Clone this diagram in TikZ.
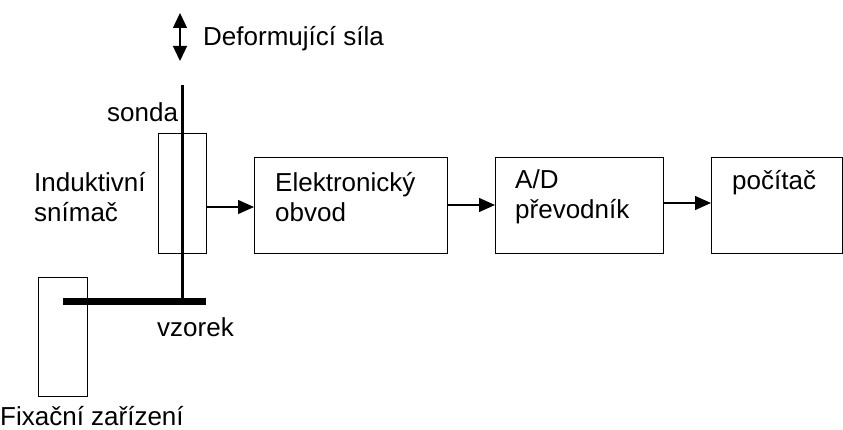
\documentclass[tikz,border=0pt]{standalone}
\usepackage{fontspec}
\setmainfont{Liberation Sans}
\usetikzlibrary{arrows.meta}
\begin{document}
\begin{tikzpicture}[x=1pt,y=-1pt,
  box/.style={draw, line width=1.3pt, inner sep=0pt, anchor=north west},
  lbl/.style={inner sep=0pt, font=\fontsize{26}{30}\selectfont, align=left},
  tip/.style={Triangle[length=16pt,width=14pt]},
  conn/.style={line width=1.3pt, -{Triangle[length=16pt,width=14pt]}}]
\useasboundingbox (0,0) rectangle (843,430);
% boxes
\node[box, minimum width=48pt, minimum height=120pt] (sensor) at (158,133) {};
\node[box, minimum width=193pt, minimum height=96pt] (elec) at (254,157) {};
\node[box, minimum width=168pt, minimum height=96pt] (ad) at (495,157) {};
\node[box, minimum width=131pt, minimum height=96pt] (pc) at (711,157) {};
\node[box, minimum width=49pt, minimum height=119pt] (fix) at (38,277) {};
% probe and sample
\coordinate (ptop) at (182,85);
\coordinate (pbot) at (182,301);
\coordinate (sl) at (63,301);
\coordinate (sr) at (206,301);
\draw[line width=3pt] (ptop) -- (pbot);
\draw[line width=7pt] (sl) -- (sr);
% connectors
\draw[conn] (sensor.east |- 0,207) -- (elec.west |- 0,207);
\draw[conn] (elec.east |- 0,205) -- (ad.west |- 0,205);
\draw[conn] (ad.east |- 0,203) -- (pc.west |- 0,203);
% force arrow
\coordinate (fa) at (180,13);
\coordinate (fb) at (180,61);
\draw[line width=1.3pt, {Triangle[length=15pt,width=14pt]}-{Triangle[length=15pt,width=14pt]}] (fa) -- (fb);
% labels
\node[lbl, anchor=west] (force) at (203,39) {Deformující síla};
\node[lbl, anchor=west] (sonda) at (107,112) {sonda};
\node[lbl, anchor=west] (induk) at (34,197) {Induktivní\\snímač};
\node[lbl, anchor=west] (vzorek) at (157,327) {vzorek};
\node[lbl, anchor=west] (fixt) at (0,416) {Fixační zařízení};
\node[lbl, anchor=west] (elect) at (275,197) {Elektronický\\obvod};
\node[lbl, anchor=west] (adt) at (515,197) {A/D\\převodník};
\node[lbl, anchor=west] (pct) at (732,183) {počítač};
\end{tikzpicture}
\end{document}
